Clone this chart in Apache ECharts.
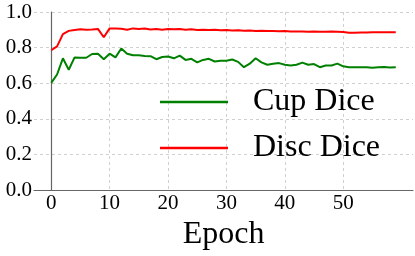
<!DOCTYPE html>
<html>
<head>
<meta charset="utf-8">
<script src="https://cdn.jsdelivr.net/npm/echarts@6/dist/echarts.min.js"></script>
<style>html,body{margin:0;padding:0;background:#fff;}#c{width:415px;height:256px;}</style>
</head>
<body>
<div id="c"></div>
<script>
const epochs = Array.from({length: 60}, (_, i) => i);
const xTicks = [0, 10, 20, 30, 40, 50];
const yTicks = [0.0, 0.2, 0.4, 0.6, 0.8, 1.0];
const cupDice = [0.602,0.649,0.740,0.676,0.745,0.743,0.743,0.764,0.766,0.735,
  0.766,0.745,0.795,0.766,0.757,0.757,0.753,0.752,0.735,0.747,
  0.750,0.740,0.755,0.731,0.737,0.717,0.731,0.737,0.722,0.726,
  0.726,0.733,0.720,0.690,0.710,0.740,0.717,0.704,0.710,0.713,
  0.704,0.700,0.704,0.716,0.704,0.708,0.690,0.700,0.700,0.710,
  0.695,0.690,0.690,0.690,0.690,0.687,0.690,0.691,0.689,0.690];
const discDice = [0.785,0.807,0.876,0.894,0.899,0.903,0.900,0.902,0.905,0.858,
  0.908,0.908,0.906,0.900,0.908,0.904,0.907,0.902,0.904,0.900,
  0.904,0.903,0.904,0.901,0.903,0.899,0.901,0.899,0.900,0.897,
  0.899,0.896,0.897,0.895,0.896,0.894,0.895,0.893,0.894,0.892,
  0.893,0.891,0.891,0.890,0.889,0.890,0.889,0.889,0.890,0.889,
  0.888,0.884,0.883,0.885,0.885,0.886,0.886,0.887,0.886,0.886];

const FONT = 'Liberation Serif';
const chart = echarts.init(document.getElementById('c'), null, {renderer: 'canvas', width: 415, height: 256});
const gridLine = {show: true, lineStyle: {color: '#d0d0d0', type: [3, 3], width: 1}};
chart.setOption({
  animation: false,
  backgroundColor: '#fff',
  textStyle: {fontFamily: FONT},
  grid: {left: 34, width: 379, top: 12, height: 183, containLabel: false},
  xAxis: {
    type: 'value', min: -2.95, max: 61.95,
    name: 'Epoch', nameLocation: 'middle', nameGap: 18,
    nameTextStyle: {fontFamily: FONT, fontSize: 32, color: '#000', verticalAlign: 'top'},
    axisLine: {show: true, lineStyle: {color: '#666', width: 1.2}},
    axisTick: {show: false, customValues: xTicks},
    axisLabel: {customValues: xTicks, fontFamily: FONT, fontSize: 21, color: '#000', margin: 3},
    splitLine: gridLine
  },
  yAxis: {
    type: 'value', min: 0, max: 1, interval: 0.2,
    axisLine: {show: true, lineStyle: {color: '#666', width: 1.2}},
    axisTick: {show: false},
    axisLabel: {fontFamily: FONT, fontSize: 21, color: '#000', margin: 2,
      formatter: v => v.toFixed(1)},
    splitLine: gridLine
  },
  legend: {
    orient: 'vertical', left: 160, top: 84, padding: 0,
    icon: 'rect',
    itemWidth: 68, itemHeight: 2.5, itemGap: 10,
    textStyle: {fontFamily: FONT, fontSize: 32, color: '#000', padding: [0, 0, 0, 20], lineHeight: 36},
    data: ['Cup Dice', 'Disc Dice']
  },
  series: [
    {name: 'Cup Dice', type: 'line', symbol: 'none', data: epochs.map((e, i) => [e, cupDice[i]]),
      lineStyle: {color: '#008000', width: 2}, itemStyle: {color: '#008000'}},
    {name: 'Disc Dice', type: 'line', symbol: 'none', data: epochs.map((e, i) => [e, discDice[i]]),
      lineStyle: {color: '#ff0000', width: 2}, itemStyle: {color: '#ff0000'}}
  ]
});
</script>
</body>
</html>
